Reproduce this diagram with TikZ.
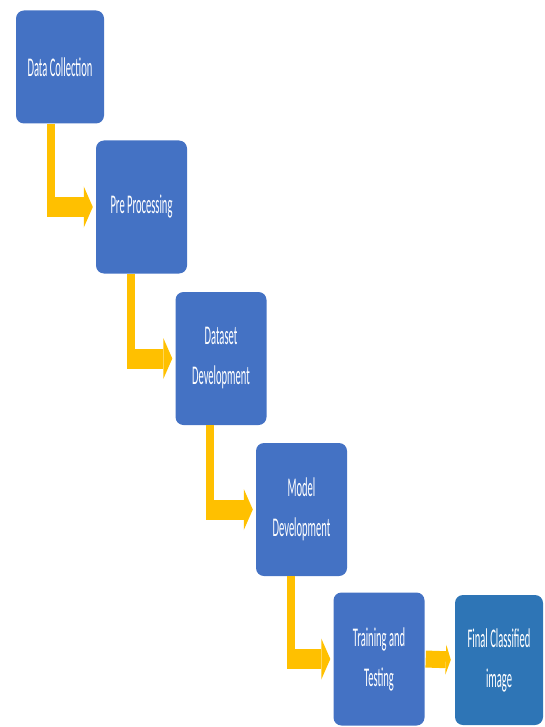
\documentclass[tikz,border=0pt]{standalone}
\usepackage{fontspec}
\newfontfamily\boxfont{Carlito}[FakeStretch=0.39]
\usetikzlibrary{arrows.meta, calc, positioning}
\definecolor{stepblue}{HTML}{4472C4}
\definecolor{finalblue}{HTML}{2E75B6}
\definecolor{flowyellow}{HTML}{FFC000}

\tikzset{
  stage/.style={fill=stepblue, rounded corners=8pt, text=white, align=center,
    inner sep=0pt, minimum width=91pt, minimum height=133pt,
    font=\boxfont\fontsize{27}{40}\selectfont},
  drop/.style={draw=flowyellow, line width=8pt},
  push/.style={draw=flowyellow, line width=20pt, shorten >=3pt,
    -{Triangle[length=9pt, width=41pt, line width=0pt]}},
}

\begin{document}
\begin{tikzpicture}[x=1pt, y=-1pt]
    \useasboundingbox (0,0) rectangle (544,727);

    % process steps, one below the other
    \node[stage, minimum width=88pt, minimum height=113pt] (collect) at (60,67) {Data Collection};
    \node[stage] (prep) at (141.5,207) {Pre Processing};
    \node[stage] (dataset) at (221,358.5) {Dataset\\Development};
    \node[stage] (model) at (301.5,509.5) {Model\\Development};
    \node[stage] (train) at (379,659) {Training and\\Testing};
    \node[stage, fill=finalblue, minimum width=88pt, minimum height=130pt] (final) at (499,660) {Final Classified\\image};

    % bent arrows: down out of a step, then right into the next one
    \foreach \from/\to in {collect/prep, prep/dataset, dataset/model, model/train} {
        \draw[drop] ($(\from.south west)+(35,0)$) coordinate (bend) -- (bend |- \to.west);
        \draw[push] ($(bend |- \to.west)+(-4,0)$) -- (\to.west);
    }

    % last step straight across
    \draw[push, line width=17pt, shorten <=1pt, shorten >=4pt,
        -{Triangle[length=5pt, width=30pt, line width=0pt]}] (train.east) -- (final.west);
\end{tikzpicture}
\end{document}
